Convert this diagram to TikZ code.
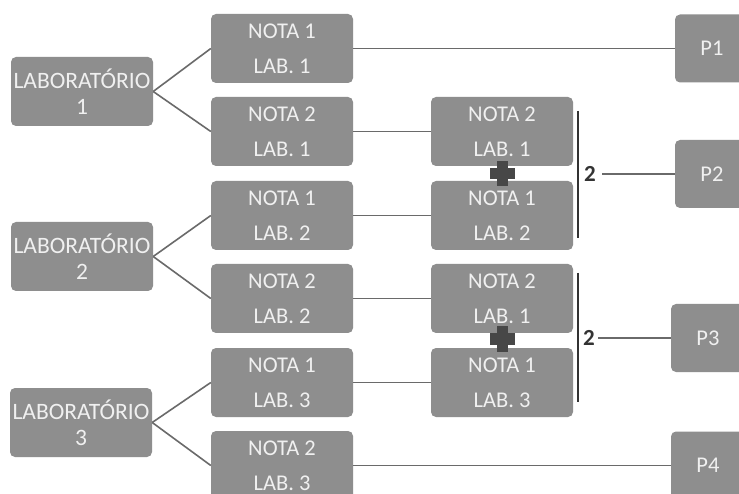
\documentclass[tikz,border=0pt]{standalone}
\usepackage{fontspec}
\setmainfont{Carlito}
\usetikzlibrary{positioning}

\definecolor{boxgray}{HTML}{8E8E8E}
\definecolor{linegray}{HTML}{6A6A6A}
\definecolor{darkgray}{HTML}{333333}

\begin{document}
\begin{tikzpicture}[x=1pt, y=-1pt,
    box/.style={fill=boxgray, rounded corners=5pt, text=white!94!black, align=center, inner sep=0pt,
        minimum width=142pt, minimum height=69pt, font=\fontsize{22.5}{35}\selectfont},
    labbox/.style={box, font=\fontsize{23.5}{26}\selectfont},
    pbox/.style={box, minimum width=74pt, minimum height=68pt},
    link/.style={draw=linegray, line width=1.6pt},
    brk/.style={draw=darkgray, line width=2.2pt},
    twolab/.style={text=darkgray, inner sep=3pt, font=\fontsize{23}{24}\selectfont\bfseries}]

    \clip (0,0) rectangle (739,494);
    \fill[white] (0,0) rectangle (739,494);

    % laboratorios
    \node[labbox] (lab1) at (82,91.5) {LABORATÓRIO\\1};
    \node[labbox] (lab2) at (82,256.5) {LABORATÓRIO\\2};
    \node[labbox] (lab3) at (81,422.5) {LABORATÓRIO\\3};

    % notas
    \node[box] (n11) at (282,48.5) {NOTA 1\\LAB. 1};
    \node[box] (n21) at (282,131.5) {NOTA 2\\LAB. 1};
    \node[box] (n12) at (282,215.5) {NOTA 1\\LAB. 2};
    \node[box] (n22) at (282,298.5) {NOTA 2\\LAB. 2};
    \node[box] (n13) at (282,382.5) {NOTA 1\\LAB. 3};
    \node[box] (n23) at (282,465.5) {NOTA 2\\LAB. 3};

    % somas
    \node[box] (s21) at (502,131.5) {NOTA 2\\LAB. 1};
    \node[box] (s12) at (502,215.5) {NOTA 1\\LAB. 2};
    \node[box] (t21) at (502,298.5) {NOTA 2\\LAB. 1};
    \node[box] (t13) at (502,382.5) {NOTA 1\\LAB. 3};

    % provas
    \node[pbox] (p1) at (712,48.5) {P1};
    \node[pbox] (p2) at (712,174) {P2};
    \node[pbox] (p3) at (708,338) {P3};
    \node[pbox] (p4) at (708,465.5) {P4};

    \foreach \l/\a/\b in {lab1/n11/n21, lab2/n12/n22, lab3/n13/n23} {
        \draw[link] (\l.east) -- (\a.west);
        \draw[link] (\l.east) -- (\b.west);
    }

    \draw[link] (n21) -- (s21);
    \draw[link] (n12) -- (s12);
    \draw[link] (n22) -- (t21);
    \draw[link] (n13) -- (t13);
    \draw[link] (n11) -- (p1);
    \draw[link] (n23) -- (p4);

    % chaves e divisao
    \coordinate (b1t) at (578,111);
    \coordinate (b1b) at (578,238);
    \coordinate (b2t) at (578,273);
    \coordinate (b2b) at (578,402);
    \draw[brk] (b1t) -- (b1b);
    \draw[brk] (b2t) -- (b2b);

    \node[twolab] (d1) at (590,174) {2};
    \node[twolab] (d2) at (589,338) {2};
    \draw[link] (d1.east) ++(3,0) -- (p2.west);
    \draw[link] (d2) -- (p3);

    \foreach \y in {174,339} {
        \fill[darkgray!90!white] (496.5,\y-12.5) rectangle (507.5,\y+12.5);
        \fill[darkgray!90!white] (489.5,\y-5.5) rectangle (514.5,\y+5.5);
    }

\end{tikzpicture}
\end{document}
